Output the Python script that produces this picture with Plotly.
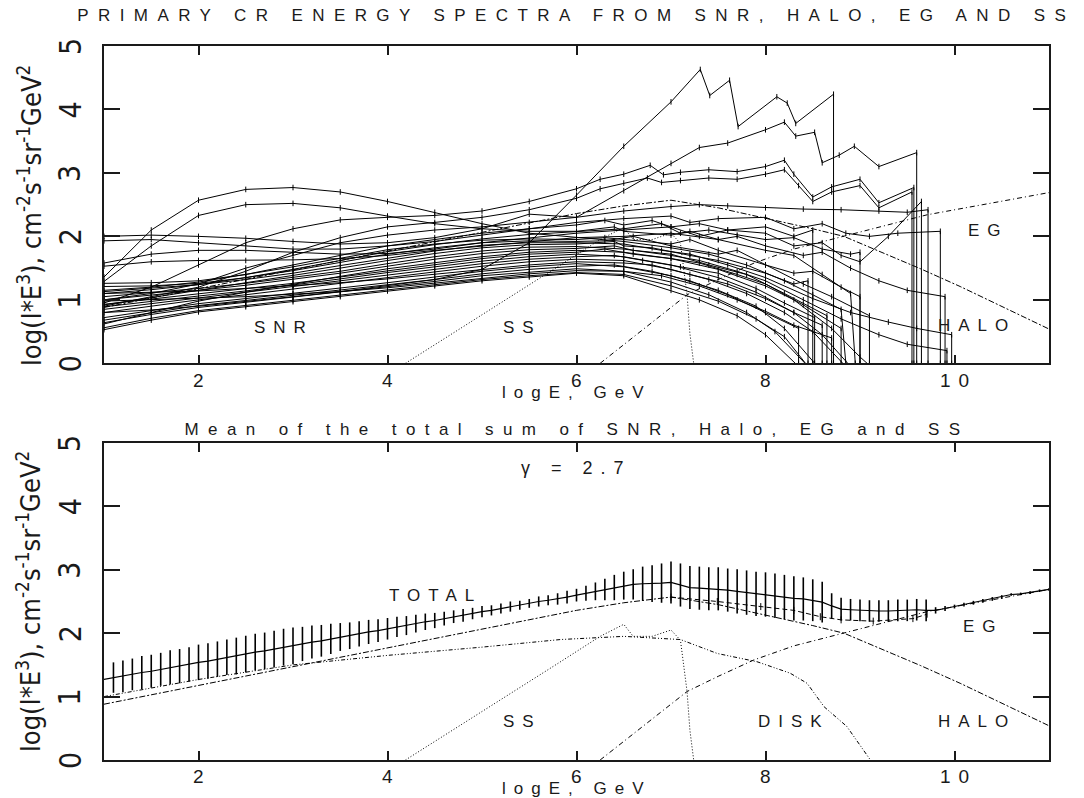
import plotly.graph_objects as go

# ---------------- DATA ----------------
snr_grid = [1.0, 1.5, 2.0, 2.5, 3.0, 3.5, 4.0, 4.5, 5.0, 5.5, 6.0]

snr_low = [
    [1.36, 2.10, 2.57, 2.74, 2.77, 2.70, 2.55, 2.38, 2.20, 2.05, 1.98],
    [1.29, 1.85, 2.33, 2.50, 2.52, 2.45, 2.32, 2.20, 2.12, 2.08, 2.08],
    [0.95, 1.20, 1.55, 1.90, 2.12, 2.26, 2.30, 2.33, 2.40, 2.55, 2.75],
    [0.90, 1.05, 1.20, 1.45, 1.75, 1.98, 2.15, 2.22, 2.30, 2.42, 2.60],
    [1.00, 1.10, 1.25, 1.50, 1.70, 1.90, 2.02, 2.10, 2.15, 2.22, 2.30],
    [2.00, 2.02, 2.00, 1.97, 1.92, 1.88, 1.90, 1.98, 2.12, 2.35, 2.30],
    [1.93, 1.95, 1.90, 1.85, 1.80, 1.80, 1.85, 1.92, 2.02, 2.12, 2.22],
    [1.58, 1.72, 1.78, 1.78, 1.75, 1.72, 1.73, 1.80, 1.90, 1.98, 2.05],
    [1.53, 1.60, 1.62, 1.62, 1.63, 1.65, 1.70, 1.78, 1.85, 1.92, 1.98],
    [0.80, 0.84, 0.90, 0.97, 1.05, 1.13, 1.22, 1.32, 1.48, 1.90, 2.65],
    [1.15, 1.20, 1.28, 1.40, 1.55, 1.70, 1.85, 1.95, 2.05, 2.12, 2.18],
    [1.10, 1.16, 1.24, 1.35, 1.48, 1.62, 1.76, 1.87, 1.96, 2.03, 2.08],
    [1.26, 1.27, 1.30, 1.40, 1.52, 1.66, 1.79, 1.88, 1.94, 1.96, 1.95],
    [1.21, 1.22, 1.26, 1.35, 1.46, 1.59, 1.72, 1.82, 1.90, 1.93, 1.92],
    [1.13, 1.18, 1.24, 1.32, 1.42, 1.54, 1.66, 1.77, 1.86, 1.90, 1.90],
    [0.92, 1.03, 1.15, 1.27, 1.38, 1.50, 1.62, 1.73, 1.82, 1.87, 1.88],
    [1.05, 1.11, 1.18, 1.26, 1.35, 1.45, 1.57, 1.68, 1.77, 1.83, 1.84],
    [1.00, 1.07, 1.15, 1.23, 1.32, 1.42, 1.53, 1.64, 1.73, 1.79, 1.81],
    [0.62, 0.80, 0.98, 1.12, 1.25, 1.37, 1.49, 1.59, 1.68, 1.75, 1.78],
    [0.93, 1.01, 1.09, 1.17, 1.26, 1.36, 1.46, 1.56, 1.65, 1.72, 1.75],
    [0.89, 0.98, 1.06, 1.14, 1.23, 1.33, 1.43, 1.52, 1.61, 1.68, 1.72],
    [0.85, 0.94, 1.03, 1.11, 1.20, 1.29, 1.39, 1.48, 1.57, 1.64, 1.68],
    [0.80, 0.90, 1.00, 1.08, 1.17, 1.26, 1.35, 1.44, 1.53, 1.60, 1.64],
    [1.10, 1.12, 1.14, 1.18, 1.22, 1.27, 1.33, 1.40, 1.48, 1.55, 1.60],
    [0.72, 0.83, 0.94, 1.02, 1.10, 1.18, 1.27, 1.36, 1.45, 1.52, 1.57],
    [0.68, 0.80, 0.91, 0.99, 1.07, 1.15, 1.24, 1.32, 1.41, 1.48, 1.53],
    [0.64, 0.77, 0.88, 0.96, 1.04, 1.12, 1.21, 1.29, 1.38, 1.44, 1.49],
    [0.98, 1.00, 1.02, 1.05, 1.09, 1.13, 1.19, 1.26, 1.34, 1.41, 1.46],
    [0.56, 0.71, 0.83, 0.91, 0.99, 1.07, 1.16, 1.24, 1.32, 1.38, 1.43],
    [0.53, 0.68, 0.81, 0.89, 0.97, 1.05, 1.14, 1.22, 1.30, 1.36, 1.42],
]

snr_high_logE = [
    [6.5, 7.0, 7.4, 7.8, 8.2, 8.5, 8.8, 8.85],
    [6.4, 6.5, 7.0, 7.2, 7.5, 8.0, 8.3, 8.6, 8.9, 8.95],
    [6.25, 6.5, 6.78, 6.92, 7.1, 7.4, 7.7, 8.0, 8.2, 8.3, 8.5, 8.7, 9.0, 9.2, 9.57, 9.57],
    [6.25, 6.5, 6.75, 6.9, 7.1, 7.4, 7.7, 8.0, 8.2, 8.35, 8.5, 8.7, 9.0, 9.2, 9.55, 9.55],
    [6.5, 7.0, 7.3, 7.6, 8.0, 8.4, 8.8, 9.2, 9.5, 9.72, 9.72],
    [6.5, 7.0, 7.3, 7.6, 8.0, 8.2, 8.32, 8.52, 8.6, 8.78, 8.94, 9.2, 9.6, 9.6],
    [6.5, 7.0, 7.2, 7.5, 8.0, 8.3, 8.6, 8.85, 9.1, 9.4, 9.85, 9.85],
    [6.5, 7.0, 7.3, 7.6, 8.0, 8.3, 8.6, 8.8, 9.0, 9.3, 9.65, 9.65],
    [6.5, 7.0, 7.5, 7.7, 8.0, 8.4, 8.6, 8.9, 9.2, 9.5, 9.9, 9.9],
    [6.5, 7.0, 7.31, 7.41, 7.62, 7.71, 8.12, 8.23, 8.32, 8.72, 8.72],
    [6.3, 6.5, 6.8, 7.0, 7.3, 7.6, 8.0, 8.3, 8.5, 8.5],
    [6.5, 6.9, 7.1, 7.4, 7.7, 8.0, 8.3, 8.6, 8.9, 9.0, 9.0],
    [6.3, 6.5, 7.0, 7.2, 7.5, 8.0, 8.3, 8.5, 8.8, 9.0, 9.0],
    [6.3, 6.6, 7.0, 7.5, 7.7, 8.0, 8.4, 8.7, 9.1, 9.1],
    [6.5, 6.9, 7.2, 7.6, 8.0, 8.5, 8.9, 9.3, 9.6, 9.97, 9.97],
    [6.4, 6.5, 6.8, 7.2, 7.5, 8.0, 8.3, 8.45, 8.45],
    [6.5, 7.0, 7.3, 7.7, 8.0, 8.4, 8.8, 9.2, 9.5, 9.92, 9.92],
    [6.4, 6.6, 7.0, 7.4, 7.8, 8.2, 8.65, 8.65],
    [6.5, 7.0, 7.5, 8.0, 8.3, 8.7, 9.0, 9.15],
    [6.3, 6.6, 7.0, 7.3, 7.7, 8.0, 8.4, 8.8, 8.8],
    [6.5, 7.0, 7.5, 7.9, 8.3, 8.6, 8.9],
    [6.4, 6.7, 7.1, 7.5, 7.9, 8.2, 8.52, 8.52],
    [6.5, 7.0, 7.4, 7.8, 8.2, 8.5, 8.85],
    [6.5, 6.8, 7.2, 7.6, 8.0, 8.3, 8.6, 8.6],
    [6.5, 7.0, 7.5, 7.9, 8.2, 8.55],
    [6.4, 6.8, 7.2, 7.6, 8.0, 8.35, 8.35],
    [6.5, 7.0, 7.4, 7.8, 8.1, 8.45],
    [6.5, 6.9, 7.3, 7.7, 8.0, 8.3, 8.7, 8.7],
    [6.5, 7.0, 7.5, 7.9, 8.2, 8.45],
    [6.5, 7.0, 7.3, 7.7, 8.0, 8.35],
]

snr_high = [
    [1.92, 1.82, 1.72, 1.55, 1.30, 1.08, 0.85, 0.0],
    [2.15, 2.08, 2.02, 2.08, 1.95, 1.78, 1.70, 1.40, 1.10, 0.0],
    [2.90, 2.98, 3.12, 2.97, 3.01, 3.05, 3.02, 3.10, 3.20, 2.98, 2.62, 2.78, 2.90, 2.53, 2.77, 0.0],
    [2.75, 2.84, 2.92, 2.85, 2.88, 2.92, 2.90, 2.98, 3.05, 2.80, 2.55, 2.70, 2.80, 2.45, 2.70, 0.0],
    [2.40, 2.47, 2.50, 2.48, 2.45, 2.43, 2.42, 2.40, 2.38, 2.42, 0.0],
    [2.72, 3.15, 3.40, 3.47, 3.68, 3.80, 3.58, 3.64, 3.16, 3.28, 3.42, 3.10, 3.32, 0.0],
    [2.28, 2.32, 2.22, 2.28, 2.30, 2.12, 2.20, 2.05, 2.00, 2.05, 2.08, 0.0],
    [2.10, 2.15, 2.00, 2.10, 2.05, 1.85, 1.90, 1.70, 1.60, 2.00, 2.55, 0.0],
    [2.00, 2.05, 1.95, 2.00, 1.85, 1.70, 1.75, 1.50, 1.30, 1.15, 1.05, 0.0],
    [3.42, 4.12, 4.63, 4.22, 4.46, 3.73, 4.20, 4.10, 3.78, 4.24, 0.0],
    [2.25, 2.18, 2.25, 2.15, 2.20, 2.10, 2.15, 2.00, 2.10, 0.0],
    [2.12, 2.20, 2.05, 2.10, 2.02, 1.95, 1.98, 1.80, 1.72, 1.75, 0.0],
    [1.98, 1.95, 1.88, 1.95, 1.78, 1.55, 1.42, 1.45, 1.20, 1.05, 0.0],
    [1.93, 2.00, 1.85, 1.72, 1.78, 1.55, 1.25, 1.05, 0.75, 0.0],
    [1.88, 1.78, 1.72, 1.55, 1.35, 1.02, 0.80, 0.65, 0.55, 0.45, 0.0],
    [1.92, 1.85, 1.82, 1.70, 1.62, 1.42, 1.25, 1.30, 0.0],
    [1.80, 1.70, 1.62, 1.45, 1.30, 1.00, 0.70, 0.45, 0.30, 0.20, 0.0],
    [1.85, 1.78, 1.72, 1.55, 1.40, 1.10, 0.75, 0.0],
    [1.75, 1.65, 1.48, 1.22, 1.00, 0.55, 0.10, -0.10],
    [1.80, 1.72, 1.65, 1.58, 1.40, 1.25, 0.92, 0.55, 0.0],
    [1.68, 1.55, 1.35, 1.12, 0.80, 0.45, -0.05],
    [1.70, 1.62, 1.52, 1.42, 1.18, 0.95, 0.72, 0.0],
    [1.62, 1.48, 1.32, 1.10, 0.80, 0.50, -0.05],
    [1.58, 1.55, 1.40, 1.25, 1.02, 0.80, 0.60, 0.0],
    [1.52, 1.38, 1.15, 0.90, 0.55, -0.05],
    [1.55, 1.45, 1.30, 1.08, 0.80, 0.55, 0.0],
    [1.45, 1.28, 1.08, 0.80, 0.50, -0.05],
    [1.45, 1.38, 1.22, 1.00, 0.82, 0.60, 0.40, 0.0],
    [1.40, 1.22, 0.98, 0.70, 0.42, -0.05],
    [1.38, 1.15, 1.00, 0.75, 0.45, -0.05],
]

halo_logE = [1.0, 4.0, 6.0, 6.5, 7.0, 7.5, 8.0, 8.5, 8.83, 9.2, 9.64, 10.06, 10.5, 11.0]
halo_lgI = [0.88, 1.77, 2.36, 2.48, 2.57, 2.45, 2.29, 2.12, 2.00, 1.77, 1.49, 1.21, 0.90, 0.54]

eg_logE = [6.25, 6.7, 7.17, 7.5, 7.88, 8.3, 8.83, 9.3, 9.71, 10.3, 11.0]
eg_lgI = [0.0, 0.53, 1.08, 1.32, 1.58, 1.80, 2.00, 2.18, 2.34, 2.50, 2.69]

ss_logE = [4.19, 5.0, 5.8, 6.25, 6.5, 6.6, 6.8, 7.0, 7.1, 7.17, 7.2, 7.24]
ss_lgI = [0.0, 0.76, 1.52, 1.95, 2.14, 1.95, 1.95, 2.05, 1.89, 1.08, 0.47, 0.0]

disk_logE = [1.0, 2.0, 3.0, 3.5, 4.0, 5.0, 5.83, 6.5, 7.1, 7.49, 7.91, 8.26, 8.44, 8.62, 8.86, 9.11]
disk_lgI = [1.0, 1.27, 1.5, 1.58, 1.65, 1.78, 1.9, 1.95, 1.9, 1.68, 1.55, 1.37, 1.21, 0.84, 0.53, 0.0]

haloeg_logE = [7.0, 7.49, 7.95, 8.3, 8.58, 8.8, 9.14, 9.56, 9.71]
haloeg_lgI = [2.57, 2.50, 2.42, 2.36, 2.26, 2.21, 2.19, 2.23, 2.30]

total_logE = [1.0, 1.1, 1.2, 1.3, 1.4, 1.5, 1.6, 1.7, 1.8, 1.9, 2.0,
              2.1, 2.2, 2.3, 2.4, 2.5, 2.6, 2.7, 2.8, 2.9, 3.0,
              3.1, 3.2, 3.3, 3.4, 3.5, 3.6, 3.7, 3.8, 3.9, 4.0,
              4.1, 4.2, 4.3, 4.4, 4.5, 4.6, 4.7, 4.8, 4.9, 5.0,
              5.1, 5.2, 5.3, 5.4, 5.5, 5.6, 5.7, 5.8, 5.9, 6.0,
              6.1, 6.2, 6.3, 6.4, 6.5, 6.6, 6.7, 6.8, 6.9, 7.0,
              7.1, 7.2, 7.3, 7.4, 7.5, 7.6, 7.7, 7.8, 7.9, 8.0,
              8.1, 8.2, 8.3, 8.4, 8.5, 8.6, 8.7, 8.8, 8.9, 9.0,
              9.1, 9.2, 9.3, 9.4, 9.5, 9.6, 9.7, 9.8, 9.9, 10.0,
              10.1, 10.2, 10.3, 10.4, 10.5, 10.6, 10.7, 10.8, 10.9, 11.0]
total_lgI = [1.27, 1.30, 1.32, 1.35, 1.38, 1.40, 1.43, 1.46, 1.48, 1.51, 1.54,
             1.56, 1.59, 1.62, 1.64, 1.67, 1.70, 1.72, 1.75, 1.78, 1.80,
             1.83, 1.86, 1.88, 1.91, 1.94, 1.96, 1.99, 2.02, 2.04, 2.07,
             2.10, 2.12, 2.15, 2.18, 2.20, 2.23, 2.26, 2.28, 2.31, 2.34,
             2.36, 2.39, 2.42, 2.44, 2.47, 2.50, 2.52, 2.54, 2.57, 2.60,
             2.63, 2.66, 2.69, 2.72, 2.75, 2.77, 2.78, 2.78, 2.79, 2.80,
             2.76, 2.72, 2.71, 2.70, 2.70, 2.68, 2.66, 2.64, 2.62, 2.61,
             2.59, 2.57, 2.55, 2.54, 2.52, 2.49, 2.43, 2.38, 2.37, 2.36,
             2.35, 2.35, 2.35, 2.36, 2.36, 2.37, 2.36, 2.36, 2.39, 2.42,
             2.45, 2.48, 2.51, 2.54, 2.57, 2.61, 2.62, 2.64, 2.67, 2.69]
total_err = [0.0, 0.24, 0.25, 0.25, 0.26, 0.26, 0.26, 0.27, 0.27, 0.27, 0.28,
             0.28, 0.28, 0.28, 0.29, 0.29, 0.29, 0.29, 0.29, 0.29, 0.29,
             0.27, 0.26, 0.25, 0.24, 0.22, 0.21, 0.20, 0.19, 0.18, 0.17,
             0.16, 0.15, 0.14, 0.13, 0.12, 0.11, 0.10, 0.10, 0.09, 0.09,
             0.08, 0.08, 0.08, 0.07, 0.07, 0.08, 0.08, 0.09, 0.10, 0.10,
             0.12, 0.14, 0.17, 0.20, 0.22, 0.24, 0.27, 0.29, 0.31, 0.33,
             0.34, 0.34, 0.34, 0.34, 0.34, 0.34, 0.35, 0.35, 0.35, 0.35,
             0.35, 0.35, 0.35, 0.34, 0.33, 0.32, 0.20, 0.18, 0.17, 0.17,
             0.17, 0.17, 0.17, 0.17, 0.17, 0.17, 0.17, 0.05, 0.04, 0.03,
             0.03, 0.03, 0.03, 0.03, 0.03, 0.02, 0.02, 0.02, 0.02, 0.02]

x_ticks = [2, 4, 6, 8, 10]
y_ticks = [0, 1, 2, 3, 4, 5]

# ---------------- FIGURE ----------------
INK = "#1a1a1a"
FONT = "Liberation Sans, Arial, sans-serif"
NARROW = "Liberation Sans Narrow, DejaVu Sans Condensed, Liberation Sans, sans-serif"

fig = go.Figure()

for low, hx, hy in zip(snr_low, snr_high_logE, snr_high):
    fig.add_trace(go.Scatter(
        x=snr_grid + hx, y=low + hy, mode="lines+markers",
        line=dict(color="black", width=1),
        marker=dict(symbol="line-ns", size=4, color="black",
                    line=dict(width=1, color="black")),
        xaxis="x", yaxis="y", showlegend=False, hoverinfo="skip"))

dash_halo = "6px,2px,2px,2px"
dash_eg = "5px,3px,1px,3px"
dash_ss = "1px,2px"
dash_disk = "4px,2px,1px,2px,1px,2px"

for xa, ya in (("x", "y"), ("x2", "y2")):
    fig.add_trace(go.Scatter(x=halo_logE, y=halo_lgI, mode="lines",
                             line=dict(color="black", width=1, dash=dash_halo),
                             xaxis=xa, yaxis=ya, showlegend=False, hoverinfo="skip"))
    fig.add_trace(go.Scatter(x=eg_logE, y=eg_lgI, mode="lines",
                             line=dict(color="black", width=1, dash=dash_eg),
                             xaxis=xa, yaxis=ya, showlegend=False, hoverinfo="skip"))
    fig.add_trace(go.Scatter(x=ss_logE, y=ss_lgI, mode="lines",
                             line=dict(color="black", width=1, dash=dash_ss),
                             xaxis=xa, yaxis=ya, showlegend=False, hoverinfo="skip"))

fig.add_trace(go.Scatter(x=disk_logE, y=disk_lgI, mode="lines",
                         line=dict(color="black", width=1, dash=dash_disk),
                         xaxis="x2", yaxis="y2", showlegend=False, hoverinfo="skip"))
fig.add_trace(go.Scatter(x=haloeg_logE, y=haloeg_lgI, mode="lines+markers",
                         line=dict(color="black", width=1, dash="5px,3px"),
                         marker=dict(symbol="line-ns", size=5, color="black",
                                     line=dict(width=1, color="black")),
                         xaxis="x2", yaxis="y2", showlegend=False, hoverinfo="skip"))
fig.add_trace(go.Scatter(x=total_logE, y=total_lgI, mode="lines",
                         line=dict(color="black", width=1.2),
                         error_y=dict(type="data", array=total_err, visible=True,
                                      thickness=1.6, width=0, color="black"),
                         xaxis="x2", yaxis="y2", showlegend=False, hoverinfo="skip"))

xcommon = dict(range=[1, 11], tickmode="array", tickvals=x_ticks,
               ticks="inside", ticklen=9, tickwidth=1.5, tickcolor=INK,
               showline=True, linecolor=INK, linewidth=1.5, mirror="ticks",
               showgrid=False, zeroline=False, showticklabels=False)
ycommon = dict(range=[0, 5], tickmode="array", tickvals=y_ticks,
               ticks="inside", ticklen=16, tickwidth=1.5, tickcolor=INK,
               showline=True, linecolor=INK, linewidth=1.5, mirror="ticks",
               showgrid=False, zeroline=False, showticklabels=False)

top_dom = [0.5556, 1.0]
bot_dom = [0.0, 0.444]

fig.update_layout(
    width=1084, height=798,
    margin=dict(l=104, r=35, t=46, b=38),
    paper_bgcolor="white", plot_bgcolor="white",
    showlegend=False,
    xaxis=dict(xcommon, domain=[0, 1], anchor="y"),
    yaxis=dict(ycommon, domain=top_dom, anchor="x"),
    xaxis2=dict(xcommon, domain=[0, 1], anchor="y2"),
    yaxis2=dict(ycommon, domain=bot_dom, anchor="x2"),
)

ytitle = "log(I*E<sup>3</sup>), cm<sup>-2</sup>s<sup>-1</sup>sr<sup>-1</sup>GeV<sup>2</sup>"
ann = []
def label(text, x, y, xref, yref, size=17, **kw):
    d = dict(text=text, x=x, y=y, xref=xref, yref=yref, showarrow=False,
             font=dict(family=FONT, size=size, color=INK),
             xanchor="center", yanchor="middle")
    d.update(kw)
    ann.append(d)

# titles
label("PRIMARY CR ENERGY SPECTRA FROM SNR, HALO, EG AND SS", 0.5, 1.0434, "paper", "paper", size=17)
label("Mean of the total sum of SNR, Halo, EG and SS", 0.5, 0.4622, "paper", "paper", size=17)
# x titles
label("logE, GeV", 0.5, 0.5154, "paper", "paper", size=17)
label("logE, GeV", 0.5, -0.0406, "paper", "paper", size=17)

for xref, yref, ybase, yshift, yc in (("x", "y", top_dom[0], -17, 0.7633),
                                       ("x2", "y2", bot_dom[0], -16, 0.2227)):
    for v in x_ticks:
        label(str(v), v, ybase, xref, "paper", size=19, yshift=yshift,
              xshift=4 if v >= 10 else 0)
    ann.append(dict(text=ytitle, x=-0.0794, y=yc,
                    xref="paper", yref="paper", showarrow=False, textangle=-90,
                    font=dict(family=NARROW, size=27, color=INK),
                    xanchor="center", yanchor="middle"))
    for v in y_ticks:
        ann.append(dict(text="<span>" + str(v) + "</span>", x=-0.036, y=v,
                        xref="paper", yref=yref, showarrow=False, textangle=-90,
                        font=dict(family=NARROW, size=30, color=INK),
                        xanchor="center", yanchor="middle"))

# top panel labels
label("SNR", 2.9, 0.56, "x", "y")
label("SS", 5.43, 0.56, "x", "y")
label("EG", 10.36, 2.1, "x", "y")
label("HALO", 10.24, 0.6, "x", "y")
# bottom panel labels
label("γ = 2.7", 6.0, 4.6, "x2", "y2", size=18)
label("TOTAL", 4.51, 2.6, "x2", "y2")
label("SS", 5.43, 0.61, "x2", "y2")
label("DISK", 8.3, 0.61, "x2", "y2")
label("HALO", 10.24, 0.61, "x2", "y2")
label("EG", 10.31, 2.11, "x2", "y2")

fig.update_layout(annotations=ann)

post = """
document.body.style.margin = '0';
document.body.style.padding = '0';
var gd = document.getElementById('{plot_id}');
gd.querySelectorAll('text.annotation-text').forEach(function(t){
  var s = t.textContent;
  if (s.indexOf('log(') === 0 || s.length < 2) { return; }
  if (s.indexOf('PRIMARY') === 0 || s.indexOf('Mean') === 0) { t.style.letterSpacing = '9.4px'; }
  else { t.style.letterSpacing = '8px'; }
});
"""

fig.write_html("out.html", post_script=post, config={"displayModeBar": False})
